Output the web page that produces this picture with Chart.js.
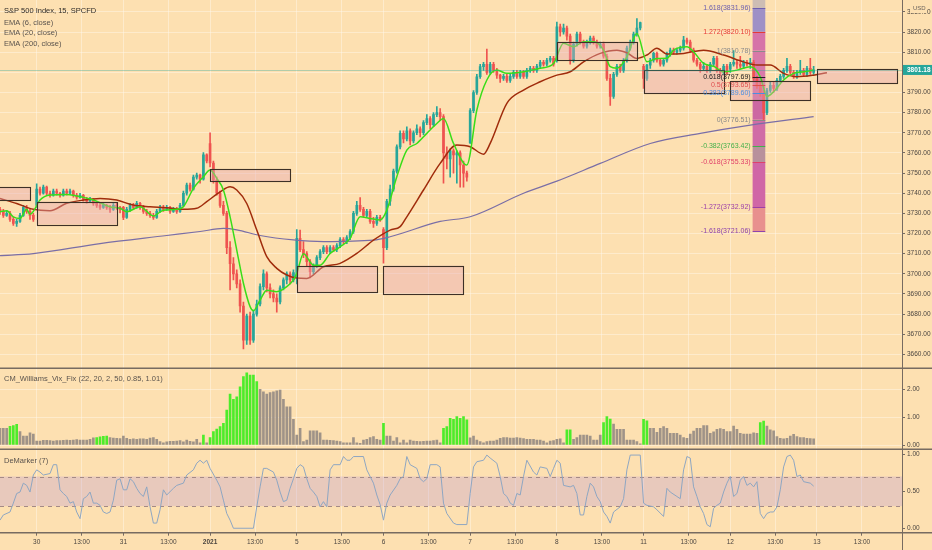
<!DOCTYPE html>
<html>
<head>
<meta charset="utf-8">
<title>S&amp;P 500 Index, 15, SPCFD</title>
<script src="https://cdn.jsdelivr.net/npm/chart.js@4.4.1/dist/chart.umd.min.js"></script>
<style>
  html, body { margin: 0; padding: 0; background: #fde0b1; }
  #wrap { width: 932px; height: 550px; }
</style>
</head>
<body>
<div id="wrap"><canvas id="chart" width="932" height="550"></canvas></div>
<script>
// 15 min candles, one array per session: [open, high, low, close]
// bar 0 = first bar of Dec 30, 26 bars per session
const dayStarts = [-11, 0, 26, 52, 78, 104, 130, 156, 182, 208];

const dec29 = [[3732,3733,3729.5,3731],[3731,3732,3728,3729],[3729,3731.5,3728.5,3730],[3730,3731,3726,3727],[3727,3728,3724,3725],[3725,3727,3723.5,3726],[3726,3730,3725.5,3729],[3729,3734,3728.5,3733],[3733,3734,3730,3731],[3731,3732,3727,3729],[3729,3730,3726,3727]];
const dec30 = [[3734,3744.6,3733,3742],[3742,3743,3739,3740],[3740,3744,3739.5,3743],[3743,3743.5,3739,3740],[3740,3741,3738,3739],[3739,3742,3738.5,3741],[3741,3742,3739,3740],[3740,3740.5,3738,3739],[3739,3742,3738.5,3741],[3741,3742,3739,3740],[3740,3742,3739.5,3741],[3741,3741.5,3738,3739],[3739,3740,3737,3738],[3738,3740,3737.5,3739],[3739,3739.5,3736,3737],[3737,3738,3735,3736],[3736,3738,3735.5,3737],[3737,3737.5,3734,3735],[3735,3736,3733,3734],[3734,3735,3732,3733],[3733,3735,3732.5,3734],[3734,3734.5,3732,3733],[3733,3734,3730.5,3732],[3732,3735,3731.5,3734],[3734,3735,3732,3733],[3733,3733.5,3730.2,3732]];
const dec31 = [[3733,3733.5,3726.9,3728],[3728,3733,3727.5,3732],[3732,3735,3731,3734],[3734,3735,3732,3733],[3733,3736,3732.5,3735],[3735,3735.5,3732,3733],[3733,3734,3730,3731],[3731,3732,3729,3730],[3730,3731,3728,3729],[3729,3730,3727,3728],[3728,3732,3727.5,3731],[3731,3734,3730.5,3733],[3733,3734,3731,3732],[3732,3734,3731.5,3733],[3733,3733.5,3730,3731],[3731,3733,3730.5,3732],[3732,3733,3730,3731],[3731,3735,3730.5,3734],[3734,3741,3733.5,3740],[3740,3745,3739,3744],[3744,3745,3741,3742],[3742,3749,3741.5,3748],[3748,3750,3747,3749],[3749,3749.5,3745,3747],[3747,3760.2,3746.5,3759],[3759,3759.5,3755,3756]];
const jan04 = [[3764.6,3770,3753,3755],[3755,3756,3745,3746.5],[3746.5,3748,3739,3740],[3740,3741,3733,3734],[3734,3736,3729,3730],[3730,3731,3710,3713],[3713,3716,3692,3705],[3705,3708,3697,3700],[3700,3702,3693,3695],[3695,3697,3681,3684],[3684,3686,3662.7,3667],[3667,3680,3665,3679],[3679,3681,3665,3667],[3667,3682,3666,3680],[3680,3687,3679,3685],[3685,3695,3684,3693.6],[3693.6,3702,3692,3700],[3700,3701,3691,3693],[3693,3695,3688,3690],[3690,3692,3686,3688],[3688,3690,3681,3686],[3686,3694,3685,3693],[3693,3698,3692,3697],[3697,3701,3695,3700],[3700,3701,3695,3697],[3697,3702,3696,3700.6]];
const jan05 = [[3699,3722,3695,3717.6],[3717.6,3721.7,3711,3712],[3712,3716,3708,3710],[3710,3711,3704,3706],[3706,3707,3698,3701],[3701,3705,3700,3704],[3704,3709,3703,3708],[3708,3712,3707,3711],[3711,3714,3710,3713],[3713,3714,3710,3711],[3711,3714,3710,3713],[3713,3714,3711,3712],[3712,3715,3711,3714],[3714,3718,3713,3717],[3717,3718,3715,3716],[3716,3719,3715,3718],[3718,3722,3717,3721],[3721,3731,3720,3730],[3730,3736,3729,3734],[3734,3737.8,3731,3732],[3732,3733,3728,3729],[3729,3732,3728,3731],[3731,3732,3725,3726],[3726,3728,3723,3725],[3725,3729,3724,3728],[3728,3729,3726,3727]];
const jan06 = [[3722,3723,3705.3,3713],[3713,3737,3712,3736],[3736,3744,3734,3742],[3742,3752,3741,3751],[3751,3764,3750,3763],[3763,3771,3762,3769.7],[3769.7,3771,3765,3767],[3767,3773,3766,3771],[3771,3772,3764,3766],[3766,3771,3765,3770],[3770,3774,3769,3772],[3772,3773,3768,3770],[3770,3776,3769,3775],[3775,3779,3774,3777],[3777,3778,3772,3774],[3774,3780,3773,3779],[3779,3783,3778,3780],[3780,3782,3776,3778],[3778,3779,3745,3760],[3760,3763,3752,3757],[3757,3762,3748,3761],[3761,3762,3750,3759],[3759,3761,3745,3760],[3760,3761,3743,3754],[3754,3756,3743,3750],[3750,3751,3746,3748]];
const jan07 = [[3765,3782,3764.7,3781],[3781,3791,3780,3790],[3790,3799,3789,3797.8],[3797.8,3804,3797,3802.8],[3802.8,3805,3801,3804],[3804,3811.5,3799,3800],[3800,3805,3799,3804],[3804,3805,3800,3801],[3801,3802,3797,3798.6],[3798.6,3799,3795,3797],[3797,3799,3796,3798],[3798,3799,3795,3796],[3796,3799,3795,3798],[3798,3801,3797,3800],[3800,3801,3797,3798],[3798,3801,3797,3800],[3800,3801,3797,3798],[3798,3802,3797,3801],[3801,3803,3800,3802],[3802,3803,3800,3801],[3801,3804,3800,3803],[3803,3806,3802,3805],[3805,3806,3803,3804],[3804,3807,3803,3806],[3806,3808,3805,3807],[3807,3808,3803,3804]];
const jan08 = [[3806,3825,3805,3822.6],[3822.6,3824,3818,3820],[3820,3824,3819,3822],[3822,3823,3816,3818],[3818,3819,3804,3806],[3806,3815,3805,3814],[3814,3820,3813,3819],[3819,3820,3814,3815],[3815,3816,3812,3813],[3813,3816,3812,3815],[3815,3818,3814,3817],[3817,3818,3814,3815],[3815,3816,3812,3813],[3813,3815,3812,3814],[3814,3815,3807,3808],[3808,3809,3796,3797],[3797,3799,3783.6,3788],[3788,3800,3787,3799],[3799,3804,3798,3803],[3803,3804,3800,3801],[3801,3807,3800,3806],[3806,3813,3805,3812],[3812,3816,3811,3815],[3815,3820,3814,3819],[3819,3826.7,3818,3822],[3822,3825,3821,3824.7]];
const jan11 = [[3803,3804,3792,3797],[3797,3804,3796,3803.6],[3803.6,3807,3802,3806],[3806,3810,3805,3809.4],[3809.4,3810,3805,3806],[3806,3807,3803,3804],[3804,3807,3803,3806],[3806,3810,3805,3809],[3809,3812,3808,3811],[3811,3812,3809,3810],[3810,3812,3809,3811],[3811,3813,3810,3812],[3812,3817.9,3811,3816],[3816,3817,3814,3815],[3815,3816,3810,3811],[3811,3812,3805,3806],[3806,3807,3803,3804],[3804,3805,3800,3802],[3802,3805,3801,3803],[3803,3804,3800,3801],[3801,3805,3800,3804],[3804,3808,3803,3807],[3807,3808,3800,3801],[3801,3802,3798,3800],[3800,3804,3799,3803],[3803,3804,3799,3799.6]];
const jan12 = [[3801.6,3805,3800,3804],[3804,3810.8,3803,3805],[3805,3806,3802,3804],[3804,3808,3802,3803],[3803,3806,3802,3805],[3805,3806,3803,3804],[3804,3807,3802,3805],[3805,3806,3796,3797],[3797,3798,3792,3793],[3793,3795,3788,3789.5],[3789.5,3791,3776.5,3780],[3780,3792,3779,3791],[3791,3795,3790,3793.5],[3793.5,3795,3790,3792],[3792,3797,3791,3796],[3796,3799,3795,3798],[3798,3802,3797,3801],[3801,3807,3800,3803],[3803,3804,3799,3800],[3800,3801,3797,3798],[3798,3801,3797,3800],[3800,3806,3799,3801],[3801,3802,3798,3799],[3799,3803,3798,3802],[3802,3807,3799,3800],[3800,3803,3799,3801.18]];
const sessions = [dec29, dec30, dec31, jan04, jan05, jan06, jan07, jan08, jan11, jan12];

// moving averages: [bar, price]
const ema6 = [[-11,3730.8],[-9,3731.3],[-7,3728.3],[-5,3727.5],[-3,3732],[-2,3729.5],[-1,3731],[1,3736.6],[4,3739.1],[9,3739.4],[12,3738.6],[17,3736.6],[22,3733.3],[25,3732.5],[27,3730.8],[31,3733.3],[35,3728.7],[38,3731.6],[42,3732],[44,3733.3],[47,3742.4],[50,3748.2],[52,3751.5],[54,3747.4],[56,3741.6],[58,3728.3],[60,3711.8],[62,3695.3],[64,3683.7],[65,3681.7],[67,3687],[69,3691.9],[72,3691.1],[75,3693.6],[77,3697],[78,3700.2],[80,3710],[83,3704.3],[85,3704.3],[88,3710.1],[91,3713.4],[94,3717.6],[97,3728.3],[100,3727.5],[103,3726.7],[105,3731.6],[108,3748.2],[111,3761.4],[114,3764.7],[117,3769.7],[120,3774.6],[122,3777.1],[125,3764.7],[129,3754],[132,3781.3],[135,3796.2],[138,3801.1],[141,3799.5],[146,3800.3],[151,3802],[155,3804.4],[158,3814.4],[161,3812.7],[164,3815.2],[167,3815.2],[170,3811],[172,3802.8],[174,3802],[177,3807.7],[180,3819.3],[183,3805.2],[186,3806.9],[189,3807],[191,3811],[195,3812.7],[197,3810.2],[200,3804.4],[203,3803],[206,3800.3],[210,3801.1],[214,3802.8],[217,3797.8],[219,3788],[221,3790.4],[224,3796.2],[227,3799.5],[230,3800.3],[233,3801.1]];
const ema20 = [[-11,3737.4],[-6,3734.9],[-1,3732],[4,3731.3],[9,3735],[14,3736.6],[19,3737.4],[24,3736.6],[29,3734.1],[34,3733.3],[39,3732.8],[44,3732],[48,3732.5],[51,3735.8],[55,3740.7],[58,3743.2],[60,3741.6],[63,3734.9],[66,3721.7],[69,3708.5],[72,3702.7],[75,3699.4],[78,3697.9],[81,3697.7],[86,3703.5],[91,3705.2],[96,3710.1],[101,3716.7],[106,3721.7],[109,3723.4],[111,3728.3],[116,3741.6],[121,3754.8],[126,3763.9],[130,3763.1],[134,3759.4],[136,3764.7],[141,3784.6],[146,3791.2],[151,3795.3],[156,3798.6],[160,3800.3],[164,3805.2],[169,3809.4],[174,3811],[177,3809.7],[180,3806.9],[183,3808.6],[186,3811.9],[189,3809.1],[194,3809.4],[200,3811],[206,3808.6],[212,3805.2],[216,3803.6],[220,3803.6],[224,3799.5],[228,3797.8],[233,3798.6],[237,3799.8]];
const ema200 = [[-11,3709],[-1,3710],[19,3715],[39,3719],[49,3721],[56,3722.5],[60,3721.8],[67,3719],[77,3716.8],[86,3716],[101,3716.7],[106,3718.4],[121,3726],[130,3728.3],[146,3740],[156,3746],[169,3754.8],[184,3764.7],[199,3769.7],[214,3773.8],[233,3778]];

// CM_Williams_Vix_Fix, one value per bar from bar -11
const vixFirstBar = -11;
const vixValues = [0.60,0.60,0.60,0.67,0.70,0.74,0.48,0.32,0.32,0.44,0.39,
  0.14,0.14,0.17,0.17,0.16,0.14,0.16,0.16,0.17,0.18,
  0.17,0.18,0.19,0.18,0.18,0.18,0.20,0.26,0.27,0.29,
  0.31,0.32,0.27,0.25,0.24,0.23,0.32,0.24,0.20,0.22,
  0.20,0.22,0.22,0.20,0.25,0.27,0.20,0.12,0.08,0.11,
  0.13,0.13,0.14,0.16,0.11,0.18,0.13,0.11,0.20,0.08,
  0.36,0.08,0.27,0.48,0.57,0.66,0.78,1.25,1.83,1.64,
  1.73,2.09,2.45,2.59,2.51,2.51,2.27,2.00,1.91,1.83,
  1.88,1.91,1.94,1.97,1.64,1.37,1.37,0.92,0.36,0.60,
  0.12,0.18,0.51,0.51,0.51,0.44,0.18,0.18,0.17,0.16,
  0.14,0.12,0.08,0.08,0.08,0.27,0.08,0.06,0.18,0.20,
  0.27,0.30,0.20,0.18,0.78,0.32,0.32,0.14,0.27,0.08,
  0.18,0.08,0.18,0.14,0.13,0.12,0.13,0.14,0.14,0.16,
  0.18,0.08,0.60,0.66,0.96,0.92,1.02,0.96,1.02,0.90,
  0.26,0.32,0.18,0.12,0.08,0.12,0.14,0.14,0.18,0.24,
  0.27,0.27,0.25,0.25,0.27,0.25,0.23,0.20,0.20,0.20,
  0.18,0.18,0.14,0.08,0.14,0.16,0.20,0.22,0.08,0.54,
  0.54,0.20,0.27,0.36,0.36,0.36,0.32,0.18,0.18,0.36,
  0.80,1.02,0.93,0.75,0.56,0.56,0.56,0.18,0.18,0.18,
  0.12,0.04,0.92,0.87,0.60,0.60,0.45,0.60,0.66,0.60,
  0.42,0.42,0.42,0.36,0.27,0.24,0.39,0.50,0.60,0.60,
  0.70,0.70,0.42,0.47,0.56,0.59,0.56,0.48,0.48,0.68,
  0.56,0.42,0.39,0.39,0.39,0.44,0.42,0.80,0.86,0.68,
  0.54,0.51,0.30,0.24,0.22,0.24,0.32,0.38,0.30,0.27,
  0.27,0.24,0.23,0.22];
// bars where the vix fix fires (green)
const vixSignal = [-8,-7,-6,18,19,20,21,50,52,53,54,55,56,57,58,59,60,61,62,63,64,65,66,104,122,123,124,125,126,127,128,129,159,160,170,171,172,182,183,217,218];

// DeMarker (7): [bar, value]
const demarker = [[-11,0.11],[-10,0.18],[-8,0.22],[-7,0.34],[-6,0.47],[-5,0.49],[-4,0.61],[-3,0.58],[-2,0.49],[-1,0.72],[0,0.79],[1,0.76],[2,0.72],[4,0.74],[5,0.86],[6,0.86],[7,0.52],[8,0.47],[9,0.43],[10,0.34],[11,0.36],[12,0.22],[13,0.13],[14,0.40],[15,0.43],[16,0.49],[17,0.34],[18,0.34],[19,0.31],[20,0.22],[21,0.20],[22,0.22],[23,0.38],[24,0.65],[25,0.67],[26,0.52],[27,0.52],[28,0.67],[29,0.63],[30,0.54],[31,0.47],[32,0.43],[33,0.56],[34,0.29],[35,0.07],[36,0.07],[37,0.25],[38,0.52],[39,0.45],[41,0.54],[42,0.58],[44,0.61],[45,0.72],[47,0.79],[48,0.88],[49,0.92],[50,0.88],[51,0.92],[52,0.81],[54,0.65],[55,0.56],[56,0.38],[57,0.20],[58,0.11],[59,0],[65,0],[66,0.29],[67,0.56],[68,0.81],[69,0.81],[71,0.76],[72,0.65],[73,0.49],[74,0.36],[75,0.38],[76,0.54],[77,0.67],[78,0.81],[79,0.86],[80,0.83],[81,0.67],[82,0.54],[83,0.49],[84,0.43],[85,0.29],[86,0.36],[87,0.29],[88,0.79],[89,0.86],[91,0.86],[92,0.97],[93,0.92],[94,0.92],[95,0.97],[98,0.97],[99,0.79],[100,0.70],[101,0.61],[102,0.45],[103,0.32],[104,0.11],[105,0.34],[106,0.45],[108,0.58],[109,0.67],[110,0.70],[111,0.97],[112,0.86],[114,0.81],[115,0.67],[116,0.63],[117,0.67],[118,0.86],[120,0.86],[121,0.83],[122,0.34],[123,0.20],[125,0.07],[126,0.05],[129,0.05],[130,0.47],[131,0.83],[132,0.90],[134,0.92],[135,0.99],[136,0.95],[138,0.88],[139,0.70],[140,0.47],[141,0.43],[142,0.34],[143,0.31],[144,0.47],[145,0.45],[146,0.70],[147,0.92],[149,0.76],[150,0.72],[151,0.83],[153,0.81],[154,0.70],[155,0.81],[156,0.92],[157,0.88],[158,0.58],[160,0.56],[161,0.58],[162,0.47],[163,0.18],[164,0.18],[165,0.43],[166,0.61],[167,0.56],[168,0.43],[169,0.36],[170,0.22],[171,0.16],[172,0.07],[173,0.22],[175,0.29],[176,0.40],[177,0.79],[178,0.99],[181,0.99],[182,0.34],[183,0.31],[185,0.29],[186,0.25],[188,0.16],[189,0.54],[190,0.49],[192,0.43],[193,0.40],[194,0.79],[195,0.97],[196,0.95],[197,0.56],[198,0.43],[199,0.29],[200,0.20],[201,0.05],[202,0.02],[203,0.27],[204,0.31],[205,0.34],[206,0.49],[207,0.61],[208,0.70],[209,0.43],[210,0.47],[211,0.65],[212,0.70],[213,0.58],[214,0.61],[215,0.56],[216,0.63],[217,0.20],[218,0.13],[219,0.20],[220,0.22],[221,0.22],[222,0.29],[223,0.52],[224,0.83],[225,0.97],[226,0.99],[227,0.92],[228,0.70],[229,0.72],[230,0.63],[232,0.61],[233,0.57]];
const demBand = [0.3, 0.7];

// session range boxes: bars from/to, price high/low
const boxFrom = [-26, 0, 52, 78, 104, 156, 182, 208, 234];
const boxTo = [-2, 24, 76, 102, 128, 180, 206, 232, 258];
const boxHigh = [3742.9, 3735.8, 3751.8, 3703.9, 3704.0, 3815.2, 3801.0, 3795.7, 3801.5];
const boxLow = [3736.6, 3724.5, 3746.0, 3691.1, 3690.3, 3806.4, 3789.6, 3786.2, 3794.5];

// fib extension on Jan 12
const fibSpan = [214.7, 218.5];
const fibLevels = [1.618, 1.272, 1, 0.618, 0.5, 0.382, 0, -0.382, -0.618, -1.272, -1.618];
const fibPrices = [3831.96, 3820.10, 3810.78, 3797.69, 3793.65, 3789.60, 3776.51, 3763.42, 3755.33, 3732.92, 3721.06];

// axes
const priceTicks = [3660, 3670, 3680, 3690, 3700, 3710, 3720, 3730, 3740, 3750, 3760, 3770, 3780, 3790, 3800, 3810, 3820, 3830];
const vixTicks = [0, 1, 2];
const demTicks = [0, 0.5, 1];
const dayTickBars = [0, 26, 52, 78, 104, 130, 156, 182, 208, 234];
const dayTickLabels = ["30", "31", "2021", "5", "6", "7", "8", "11", "12", "13"];
const midTickBars = [13.5, 39.5, 65.5, 91.5, 117.5, 143.5, 169.5, 195.5, 221.5, 247.5];
const lastPrice = 3801.18;

// ---------- build ----------
const candles = [];
sessions.forEach((bars, d) => {
    bars.forEach((b, k) => {
        candles.push({ i: dayStarts[d] + k, o: b[0], h: b[1], l: b[2], c: b[3] });
    });
});

const xLabels = new Map();
dayTickBars.forEach((b, k) => xLabels.set(b, dayTickLabels[k]));
midTickBars.forEach(b => xLabels.set(b, "13:00"));
const xTicks = [...dayTickBars, ...midTickBars].sort((a, b) => a - b);

const BG = "#fde0b1";
const GRID = "rgba(255,250,240,0.42)";
const AXIS = "#776b61";
const UP = "#26a69a";
const DOWN = "#ef5350";
const FONT = "'Liberation Sans', Arial, sans-serif";

Chart.defaults.font.family = FONT;
Chart.defaults.font.size = 6.5;
Chart.defaults.color = "#4b4540";

const isUp = k => candles[k].c >= candles[k].o;

// y axes: fixed width, no label overhang padding so the panes fill the canvas
function fitRight(s) {
    s.width = 30;
    s.paddingTop = 0;
    s.paddingBottom = 0;
}

// backdrop, ranges, fib tool, separators and captions
const overlay = {
    id: "overlay",
    beforeDraw(chart) {
        const c = chart.ctx;
        c.save();
        c.fillStyle = BG;
        c.fillRect(0, 0, chart.width, chart.height);
        c.restore();
    },
    beforeDatasetsDraw(chart) {
        const c = chart.ctx;
        const { x, y, yDem } = chart.scales;
        c.save();

        // DeMarker band
        const bt = yDem.getPixelForValue(demBand[1]);
        const bb = yDem.getPixelForValue(demBand[0]);
        c.fillStyle = "rgba(185,150,215,0.3)";
        c.fillRect(x.left, bt, x.right - x.left, bb - bt);
        c.strokeStyle = "#a48a86";
        c.lineWidth = 1;
        c.setLineDash([4, 4]);
        [bt, bb].forEach(py => {
            c.beginPath();
            c.moveTo(x.left, Math.round(py) + 0.5);
            c.lineTo(x.right, Math.round(py) + 0.5);
            c.stroke();
        });
        c.setLineDash([]);

        // fib column
        const segColors = ["#9e90c6", "#d673a8", "#d87aa8", "#d87aa8", "#d070a4", "#cc68a2", "#d06ca6", "#b8919c", "#d066a6", "#e8908e"];
        const fx0 = x.getPixelForValue(fibSpan[0]);
        const fx1 = x.getPixelForValue(fibSpan[1]);
        c.fillStyle = "#cdbdb4";
        c.fillRect(fx0, y.top, fx1 - fx0, y.getPixelForValue(fibPrices[0]) - y.top);
        for (let k = 0; k < fibPrices.length - 1; k++) {
            const t = y.getPixelForValue(fibPrices[k]);
            const b = y.getPixelForValue(fibPrices[k + 1]);
            c.fillStyle = segColors[k];
            c.fillRect(fx0, t, fx1 - fx0, b - t);
        }
        c.restore();
    },
    afterDatasetsDraw(chart) {
        const c = chart.ctx;
        const { x, y } = chart.scales;
        const area = chart.chartArea;
        c.save();
        c.beginPath();
        c.rect(area.left, y.top, area.right - area.left, y.bottom - y.top);
        c.clip();

        // range boxes
        for (let k = 0; k < boxFrom.length; k++) {
            const x0 = x.getPixelForValue(boxFrom[k]);
            const x1 = x.getPixelForValue(boxTo[k]);
            const y0 = y.getPixelForValue(boxHigh[k]);
            const y1 = y.getPixelForValue(boxLow[k]);
            c.fillStyle = "rgba(232,168,178,0.42)";
            c.fillRect(x0, y0, x1 - x0, y1 - y0);
            c.strokeStyle = "#3d3026";
            c.lineWidth = 1.1;
            c.strokeRect(Math.round(x0) + 0.5, Math.round(y0) + 0.5, Math.round(x1 - x0), Math.round(y1 - y0));
        }

        // last price line
        const py = Math.round(y.getPixelForValue(lastPrice)) + 0.5;
        c.strokeStyle = "rgba(38,166,154,0.35)";
        c.lineWidth = 1;
        c.beginPath();
        c.moveTo(area.left, py);
        c.lineTo(area.right, py);
        c.stroke();

        // fib levels
        const lineColors = ["#6d5fae", "#e53935", "#8a8a8a", "#222222", "#e05050", "#4a8ee0", "#888888", "#43b04a", "#e0406a", "#9c3fa8", "#8e44ad"];
        const fx0 = x.getPixelForValue(fibSpan[0]);
        const fx1 = x.getPixelForValue(fibSpan[1]);
        c.font = "7px " + FONT;
        c.textAlign = "right";
        c.textBaseline = "middle";
        fibLevels.forEach((lv, k) => {
            const ly = Math.round(y.getPixelForValue(fibPrices[k])) + 0.5;
            c.strokeStyle = lineColors[k];
            c.lineWidth = 1.2;
            c.beginPath();
            c.moveTo(fx0, ly);
            c.lineTo(fx1, ly);
            c.stroke();
            c.fillStyle = lineColors[k];
            c.fillText(String(lv) + "(" + fibPrices[k].toFixed(2) + ")", fx0 - 2, ly);
        });
        c.restore();
    },
    afterDraw(chart) {
        const c = chart.ctx;
        const { x, y, yVix, yDem } = chart.scales;
        c.save();

        // pane separators and axis lines
        c.strokeStyle = AXIS;
        c.lineWidth = 1.5;
        [yVix.top, yDem.top, x.top].forEach(py => {
            c.beginPath();
            c.moveTo(0, py);
            c.lineTo(chart.width, py);
            c.stroke();
        });
        c.lineWidth = 1;
        c.beginPath();
        c.moveTo(Math.round(y.left) + 0.5, 0);
        c.lineTo(Math.round(y.left) + 0.5, chart.height);
        c.stroke();

        // last price tag
        const py = y.getPixelForValue(lastPrice);
        c.fillStyle = UP;
        c.fillRect(y.left + 1, py - 5, chart.width - y.left - 1, 10);
        c.fillStyle = "#ffffff";
        c.font = "bold 6.5px " + FONT;
        c.textAlign = "left";
        c.textBaseline = "middle";
        c.fillText(lastPrice.toFixed(2), y.left + 5, py + 0.5);

        // currency badge over the top tick
        c.fillStyle = BG;
        c.fillRect(y.left + 8, 3, 17, 10);
        c.fillStyle = "#6a625c";
        c.font = "6px " + FONT;
        c.fillText("USD", y.left + 11, 8);

        // pane captions
        c.textAlign = "left";
        c.font = "7.5px " + FONT;
        c.fillStyle = "#2f2b28";
        c.fillText("S&P 500 Index, 15, SPCFD", 4, 11);
        c.fillStyle = "#5a534d";
        c.fillText("EMA (6, close)", 4, 22.5);
        c.fillText("EMA (20, close)", 4, 33);
        c.fillText("EMA (200, close)", 4, 43.5);
        c.fillText("CM_Williams_Vix_Fix (22, 20, 2, 50, 0.85, 1.01)", 4, yVix.top + 11);
        c.fillText("DeMarker (7)", 4, yDem.top + 11.5);
        c.restore();
    }
};

const ctx = document.getElementById("chart").getContext("2d");

new Chart(ctx, {
    type: "bar",
    data: {
        datasets: [
            {
                type: "line",
                label: "EMA (6, close)",
                data: ema6.map(p => ({ x: p[0], y: p[1] })),
                borderColor: "#39dd18",
                borderWidth: 1.5,
                pointRadius: 0,
                cubicInterpolationMode: "monotone",
                yAxisID: "y"
            },
            {
                type: "line",
                label: "EMA (20, close)",
                data: ema20.map(p => ({ x: p[0], y: p[1] })),
                borderColor: "#a02c0c",
                borderWidth: 1.5,
                pointRadius: 0,
                cubicInterpolationMode: "monotone",
                yAxisID: "y"
            },
            {
                type: "line",
                label: "EMA (200, close)",
                data: ema200.map(p => ({ x: p[0], y: p[1] })),
                borderColor: "#7a6ea6",
                borderWidth: 1.2,
                pointRadius: 0,
                cubicInterpolationMode: "monotone",
                yAxisID: "y"
            },
            {
                label: "body",
                data: candles.map(k => ({ x: k.i, y: [k.o, k.c] })),
                backgroundColor: c => (c.dataIndex !== undefined && candles[c.dataIndex] && !isUp(c.dataIndex)) ? DOWN : UP,
                barThickness: 2,
                minBarLength: 1,
                grouped: false,
                yAxisID: "y"
            },
            {
                label: "wick",
                data: candles.map(k => ({ x: k.i, y: [k.l, k.h] })),
                backgroundColor: c => (c.dataIndex !== undefined && candles[c.dataIndex] && !isUp(c.dataIndex)) ? DOWN : UP,
                barThickness: 1,
                grouped: false,
                yAxisID: "y"
            },
            {
                label: "Vix Fix",
                data: vixValues.map((v, k) => ({ x: vixFirstBar + k, y: v })),
                backgroundColor: c => (c.raw && vixSignal.includes(c.raw.x)) ? "#4dec2a" : "#9f9388",
                barThickness: 2,
                grouped: false,
                yAxisID: "yVix"
            },
            {
                type: "line",
                label: "DeMarker (7)",
                data: demarker.map(p => ({ x: p[0], y: p[1] })),
                borderColor: "#8ea6c2",
                borderWidth: 1,
                pointRadius: 0,
                tension: 0,
                yAxisID: "yDem"
            }
        ]
    },
    options: {
        responsive: false,
        animation: false,
        devicePixelRatio: 1,
        events: [],
        layout: { padding: 0 },
        plugins: {
            legend: { display: false },
            tooltip: { enabled: false }
        },
        scales: {
            x: {
                type: "linear",
                position: "bottom",
                min: -11,
                max: 259.5,
                offset: false,
                grid: { color: GRID, tickColor: AXIS, tickLength: 3, offset: false },
                border: { display: false },
                afterBuildTicks: s => { s.ticks = xTicks.map(v => ({ value: v })); },
                afterFit: s => { s.height = 17.3; s.paddingLeft = 0; s.paddingRight = 0; },
                ticks: {
                    autoSkip: false,
                    maxRotation: 0,
                    padding: 2.5,
                    callback: v => xLabels.get(v) || "",
                    font: c => ({ size: 6.5, weight: (c.tick && c.tick.label === "2021") ? "bold" : "normal" })
                }
            },
            y: {
                type: "linear",
                position: "right",
                stack: "panes",
                stackWeight: 368.3,
                min: 3653.1,
                max: 3835.9,
                grid: { color: GRID, tickColor: AXIS, tickLength: 3 },
                border: { display: false },
                afterBuildTicks: s => { s.ticks = priceTicks.map(v => ({ value: v })); },
                afterFit: fitRight,
                ticks: { padding: 2, callback: v => v.toFixed(2) }
            },
            yVix: {
                type: "linear",
                position: "right",
                stack: "panes",
                stackWeight: 81,
                min: -0.154,
                max: 2.75,
                grid: { color: GRID, tickColor: AXIS, tickLength: 3 },
                border: { display: false },
                afterBuildTicks: s => { s.ticks = vixTicks.map(v => ({ value: v })); },
                afterFit: fitRight,
                ticks: { padding: 2, callback: v => v.toFixed(2) }
            },
            yDem: {
                type: "linear",
                position: "right",
                stack: "panes",
                stackWeight: 83.4,
                min: -0.06,
                max: 1.068,
                grid: { drawOnChartArea: false, tickColor: AXIS, tickLength: 3 },
                border: { display: false },
                afterBuildTicks: s => { s.ticks = demTicks.map(v => ({ value: v })); },
                afterFit: fitRight,
                ticks: { padding: 2, callback: v => v.toFixed(2) }
            }
        }
    },
    plugins: [overlay]
});
</script>
</body>
</html>
